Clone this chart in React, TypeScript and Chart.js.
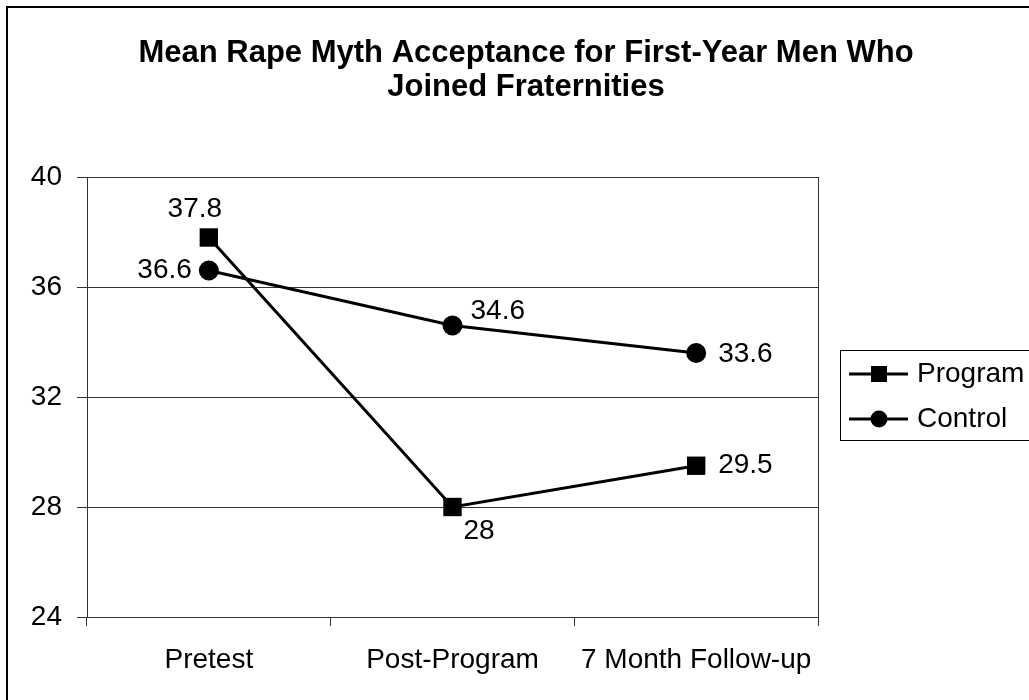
import React, { useEffect, useRef } from 'react';
import { Chart, registerables } from 'chart.js';

Chart.register(...registerables);

const titleLines = ['Mean Rape Myth Acceptance for First-Year Men Who', 'Joined Fraternities'];
const categories = ['Pretest', 'Post-Program', '7 Month Follow-up'];
const seriesNames = ['Program', 'Control'];
const programValues = [37.8, 28, 29.5];
const controlValues = [36.6, 34.6, 33.6];
const yTicks = [24, 28, 32, 36, 40];

// label placement relative to each point: [dx, dy, textAlign]
const programLabelPlacement: [number, number, CanvasTextAlign][] = [
  [-14, -28, 'center'],
  [11, 24, 'left'],
  [22, 0, 'left'],
];
const controlLabelPlacement: [number, number, CanvasTextAlign][] = [
  [-17, 0, 'right'],
  [18, -14, 'left'],
  [22, 1, 'left'],
];

const FONT = '"Liberation Sans", Arial, sans-serif';
const INK = '#000000';
const GRID = '#333333';

const W = 1029;
const H = 700;

export default function App() {
  const ref = useRef<HTMLCanvasElement | null>(null);

  useEffect(() => {
    document.body.style.margin = '0';
    const canvas = ref.current;
    if (!canvas) return;

    const decorations = {
      id: 'decorations',
      afterDraw(chart: any) {
        const ctx = chart.ctx as CanvasRenderingContext2D;
        const area = chart.chartArea;
        ctx.save();
        // outer border
        ctx.strokeStyle = INK;
        ctx.lineWidth = 2;
        ctx.strokeRect(7, 7, 1100, 800);
        // plot area right border
        ctx.strokeStyle = GRID;
        ctx.lineWidth = 1;
        ctx.beginPath();
        ctx.moveTo(Math.round(area.right) + 0.5, area.top);
        ctx.lineTo(Math.round(area.right) + 0.5, area.bottom);
        ctx.stroke();
        // title
        ctx.fillStyle = INK;
        ctx.font = `bold 31px ${FONT}`;
        ctx.textAlign = 'center';
        ctx.textBaseline = 'alphabetic';
        ctx.fillText(titleLines[0], 526, 62);
        ctx.fillText(titleLines[1], 526, 96);
        // legend
        ctx.strokeStyle = INK;
        ctx.lineWidth = 1;
        ctx.strokeRect(840.5, 350.5, 300, 90);
        const rows = [374, 419];
        const styles = ['rect', 'circle'];
        rows.forEach((ry, i) => {
          ctx.strokeStyle = INK;
          ctx.lineWidth = 3;
          ctx.beginPath();
          ctx.moveTo(849, ry);
          ctx.lineTo(908, ry);
          ctx.stroke();
          ctx.fillStyle = INK;
          if (styles[i] === 'rect') {
            ctx.fillRect(879 - 8, ry - 8, 16, 16);
          } else {
            ctx.beginPath();
            ctx.arc(879, ry, 8.5, 0, Math.PI * 2);
            ctx.fill();
          }
          ctx.font = `28px ${FONT}`;
          ctx.textAlign = 'left';
          ctx.textBaseline = 'middle';
          ctx.fillText(seriesNames[i], 917, ry);
        });
        ctx.restore();
      },
    };

    const dataLabels = {
      id: 'dataLabels',
      afterDatasetsDraw(chart: any) {
        const ctx = chart.ctx as CanvasRenderingContext2D;
        ctx.save();
        ctx.fillStyle = INK;
        ctx.font = `28px ${FONT}`;
        ctx.textBaseline = 'middle';
        const placements = [programLabelPlacement, controlLabelPlacement];
        chart.data.datasets.forEach((ds: any, di: number) => {
          const meta = chart.getDatasetMeta(di);
          meta.data.forEach((pt: any, i: number) => {
            const [dx, dy, align] = placements[di][i];
            ctx.textAlign = align;
            ctx.fillText(String(ds.data[i]), pt.x + dx, pt.y + dy);
          });
        });
        ctx.restore();
      },
    };

    const chart = new Chart(canvas, {
      type: 'line',
      data: {
        labels: categories,
        datasets: [
          {
            label: seriesNames[0],
            data: programValues,
            borderColor: INK,
            backgroundColor: INK,
            borderWidth: 3,
            pointStyle: 'rect',
            pointRadius: 13,
            pointBorderWidth: 0,
            tension: 0,
            fill: false,
          },
          {
            label: seriesNames[1],
            data: controlValues,
            borderColor: INK,
            backgroundColor: INK,
            borderWidth: 3,
            pointStyle: 'circle',
            pointRadius: 10,
            pointBorderWidth: 0,
            tension: 0,
            fill: false,
          },
        ],
      },
      options: {
        responsive: false,
        animation: false,
        devicePixelRatio: 1,
        layout: { padding: { left: 0, top: 177, right: 211, bottom: 0 } },
        plugins: {
          legend: { display: false },
          title: { display: false },
          tooltip: { enabled: false },
        },
        scales: {
          x: {
            type: 'category',
            offset: true,
            grid: {
              display: true,
              offset: true,
              drawOnChartArea: false,
              drawTicks: true,
              tickLength: 9,
              color: GRID,
              lineWidth: 1,
            },
            border: { display: true, color: GRID, width: 1 },
            ticks: {
              color: INK,
              font: { family: FONT, size: 28 },
              padding: 17,
              maxRotation: 0,
              autoSkip: false,
            },
            afterFit(scale: any) {
              scale.height = 83;
            },
          },
          y: {
            min: yTicks[0],
            max: yTicks[yTicks.length - 1],
            afterBuildTicks(scale: any) {
              scale.ticks = yTicks.map((v) => ({ value: v }));
            },
            grid: {
              display: true,
              drawTicks: true,
              tickLength: 10,
              color: GRID,
              lineWidth: 1,
            },
            border: { display: true, color: GRID, width: 1 },
            ticks: {
              color: INK,
              font: { family: FONT, size: 28 },
              padding: 15,
            },
            afterFit(scale: any) {
              scale.width = 87;
            },
          },
        },
      },
      plugins: [decorations, dataLabels],
    });

    return () => chart.destroy();
  }, []);

  return (
    <div style={{ position: 'absolute', left: 0, top: 0, width: W, height: H, background: '#fff' }}>
      <canvas ref={ref} width={W} height={H} style={{ display: 'block', width: W, height: H }} />
    </div>
  );
}
